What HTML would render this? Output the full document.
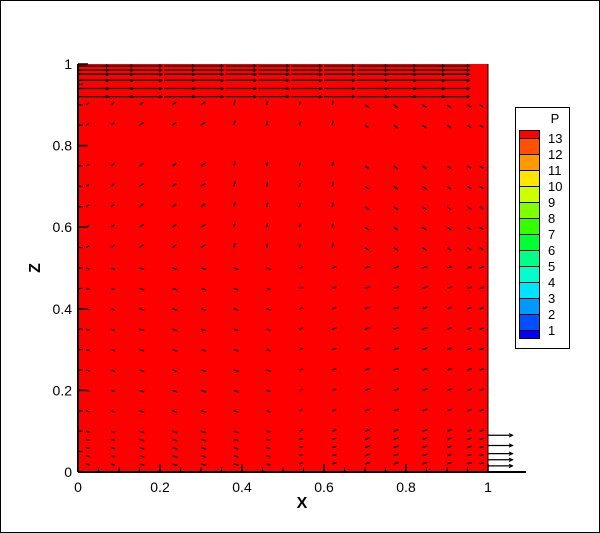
<!DOCTYPE html>
<html><head><meta charset="utf-8"><style>
body{margin:0;background:#fff;}
svg{display:block;font-family:"Liberation Sans",sans-serif;}
</style></head><body>
<svg id="c" width="600" height="533">
<rect x="0.5" y="0.5" width="599" height="532" fill="#fff" stroke="#000"/>
<g id="plot"></g>
<g id="legend"></g>
</svg>
<script>
const xTicks=[0,0.2,0.4,0.6,0.8,1];
const zTicks=[0,0.2,0.4,0.6,0.8,1];
const xTickLabels=["0","0.2","0.4","0.6","0.8","1"];
const zTickLabels=["0","0.2","0.4","0.6","0.8","1"];
const legendLevels=[13,12,11,10,9,8,7,6,5,4,3,2,1];
const legendColors=["#ff0000","#ff5000","#ff9900","#ffe600","#ccff00","#80ff00","#33ff00","#00ff33","#00ff88","#00ffcc","#00e5ff","#0099ff","#0050ff","#0000ff"];
const vecCols=[0.02,0.08,0.15,0.23,0.3,0.38,0.46,0.54,0.62,0.7,0.77,0.84,0.9,0.95,0.98];
const vecRows=[0.9,0.85,0.75,0.7,0.65,0.6,0.55,0.5,0.45,0.4,0.35,0.3,0.25,0.2,0.15,0.1,0.08,0.06,0.04,0.02];
const topRows=[0.995,0.985,0.975,0.96,0.94,0.92];
const topLens=[0.075,0.075,0.075,0.075,0.075,0.075];
const outRows=[0.09,0.065,0.045,0.03,0.015];

const NS="http://www.w3.org/2000/svg";
const L=78,R=488,T=64,B=472;
const sx=v=>L+v*(R-L), sz=v=>B-v*(B-T);
const plot=document.getElementById('plot');
function mk(tag,attrs,parent){const e=document.createElementNS(NS,tag);for(const k in attrs)e.setAttribute(k,attrs[k]);(parent||plot).appendChild(e);return e;}

const bg=mk('rect',{x:L,y:T,width:R-L,height:B-T,fill:'#ff0000'});



function arrow(x,z,dx,dz,name,head){
  const x1=sx(x),y1=sz(z),x2=sx(x+dx),y2=sz(z+dz);
  const g=mk('g',{});
  
  
  mk('line',{x1,y1,x2,y2,stroke:'#000','stroke-width':1.3},g);
  if(head){
    const a=Math.atan2(y2-y1,x2-x1),h=head;
    mk('polyline',{points:`${x2-h*Math.cos(a-0.45)},${y2-h*Math.sin(a-0.45)} ${x2},${y2} ${x2-h*Math.cos(a+0.45)},${y2-h*Math.sin(a+0.45)}`,fill:'none',stroke:'#000','stroke-width':1},g);
  }
}
vecCols.forEach((x,i)=>vecRows.forEach((z,j)=>{
  let ang=(x<0.5? -0.6:0.6)*(z>0.5?1:-0.5);
  if(x>0.35&&x<0.65&&z>0.5) ang=-1.3;
  const len=0.008+0.005*Math.abs(Math.sin(x*6));
  arrow(x,z,len*Math.cos(ang),-len*Math.sin(ang),'velocity-vector',0);
}));
topRows.forEach((z,j)=>vecCols.forEach(x=>{ if(x<0.95) arrow(x-0.02,z,topLens[j],0,'top-flow-vector',3);}));
outRows.forEach(z=>arrow(1.0,z,0.06,0,'outflow-vector',4));

const ax=mk('g',{});


mk('line',{x1:L,y1:T,x2:L,y2:B,stroke:'#000','stroke-width':2},ax);
mk('line',{x1:R,y1:T,x2:R,y2:B,stroke:'#000','stroke-width':1},ax);
mk('line',{x1:L,y1:B,x2:526,y2:B,stroke:'#000','stroke-width':2},ax);
xTicks.forEach((v,i)=>{
  mk('line',{x1:sx(v),y1:B,x2:sx(v),y2:B-8,stroke:'#000','stroke-width':1.5},ax);
  const t=mk('text',{x:sx(v),y:B+20,'text-anchor':'middle','font-size':14},ax);t.textContent=xTickLabels[i];
  
  
});
zTicks.forEach((v,i)=>{
  mk('line',{x1:L,y1:sz(v),x2:L+10,y2:sz(v),stroke:'#000','stroke-width':1.5},ax);
  const t=mk('text',{x:L-6,y:sz(v)+5,'text-anchor':'end','font-size':14},ax);t.textContent=zTickLabels[i];
  
  
});
for(let v=0.05;v<1;v+=0.05){
  mk('line',{x1:L,y1:sz(v),x2:L+5,y2:sz(v),stroke:'#000'},ax);
  mk('line',{x1:sx(v),y1:B,x2:sx(v),y2:B-5,stroke:'#000'},ax);
}
const xt=mk('text',{x:302,y:508,'text-anchor':'middle','font-size':16,'font-weight':'bold'},ax);xt.textContent='X';


const zt=mk('text',{x:0,y:0,transform:'translate(40,268) rotate(-90)','text-anchor':'middle','font-size':16,'font-weight':'bold'},ax);zt.textContent='Z';



const lg=document.getElementById('legend');
mk('rect',{x:515.5,y:107.5,width:54,height:241,fill:'#fff',stroke:'#000'},lg);
const lt=mk('text',{x:555,y:123,'text-anchor':'middle','font-size':13},lg);lt.textContent='P';


const top0=130, h=16;
mk('rect',{x:519.5,y:top0+0.5,width:20,height:8,fill:legendColors[0],stroke:'#000'},lg);
legendLevels.forEach((lv,i)=>{
  const y=top0+8+i*h;
  const last=i===legendLevels.length-1;
  const r=mk('rect',{x:519.5,y:y+0.5,width:20,height:last?8:h,fill:legendColors[i+1],stroke:'#000'},lg);
  
  
  const t=mk('text',{x:548,y:y+5,'font-size':13},lg);t.textContent=lv;
  
  
});
</script>
</body></html>
